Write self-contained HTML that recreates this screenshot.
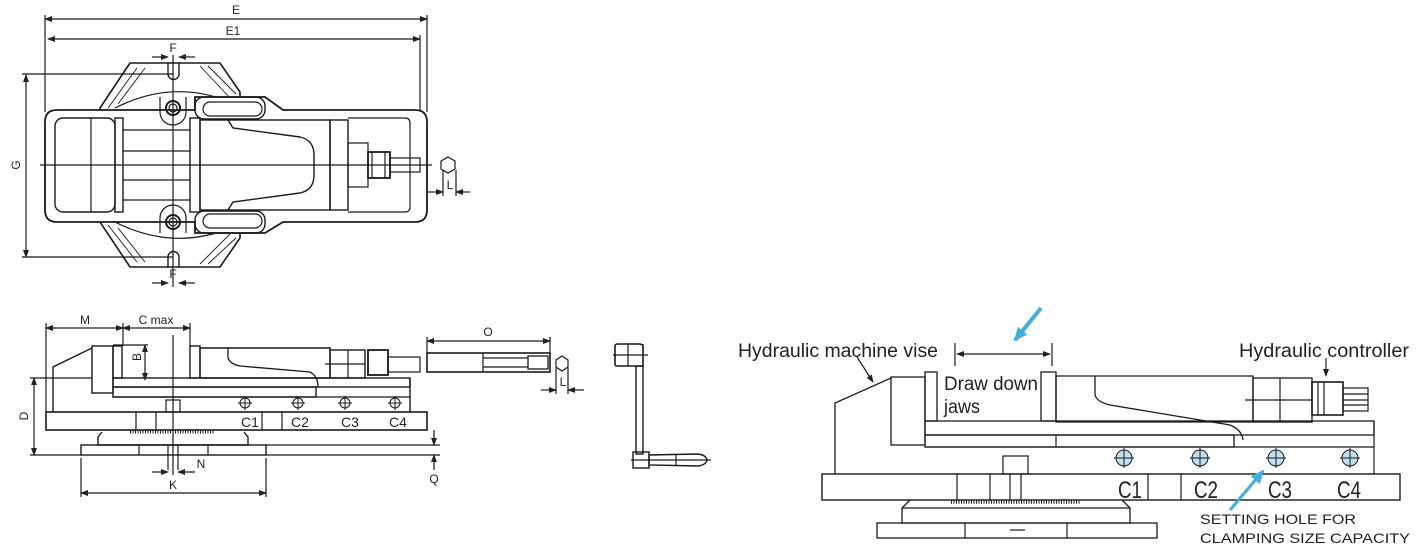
<!DOCTYPE html>
<html><head><meta charset="utf-8"><style>
html,body{margin:0;padding:0;background:#fff;}
svg{display:block;}
text{font-family:"Liberation Sans",sans-serif;fill:#222;}
.n{font-family:"Liberation Sans Narrow","Liberation Sans",sans-serif;}
</style></head><body>
<svg width="1420" height="553" viewBox="0 0 1420 553" xmlns="http://www.w3.org/2000/svg">
<defs>
<marker id="a" markerWidth="8" markerHeight="6" refX="7" refY="3" orient="auto-start-reverse" markerUnits="userSpaceOnUse"><path d="M0,0 L8,3 L0,6 Z" fill="#222"/></marker>
<marker id="b" markerWidth="14" markerHeight="12" refX="12" refY="6" orient="auto" markerUnits="userSpaceOnUse"><path d="M0,0 L14,6 L0,12 Z" fill="#3fb0dc"/></marker>
</defs>
<g fill="none" stroke="#1a1a1a" stroke-width="1.2">
<!-- ===== TOP VIEW ===== -->
<line x1="45" y1="19" x2="427" y2="19" marker-start="url(#a)" marker-end="url(#a)"/>
<line x1="48" y1="39" x2="420" y2="39" marker-start="url(#a)" marker-end="url(#a)"/>
<line x1="45" y1="15" x2="45" y2="112"/><line x1="427" y1="15" x2="427" y2="112"/><line x1="420" y1="35" x2="420" y2="112"/>
<line x1="152" y1="57" x2="168" y2="57" marker-end="url(#a)"/><line x1="195" y1="57" x2="179" y2="57" marker-end="url(#a)"/>
<line x1="152" y1="283" x2="168" y2="283" marker-end="url(#a)"/><line x1="195" y1="283" x2="179" y2="283" marker-end="url(#a)"/>
<line x1="26" y1="75" x2="26" y2="257" marker-start="url(#a)" marker-end="url(#a)"/>
<line x1="22" y1="74" x2="173" y2="74"/><line x1="22" y1="257" x2="173" y2="257"/>
<path d="M130,63 H220 L240,92 L240,238 L220,267 H130 L100,222 L100,108 Z" stroke-width="1.6"/>
<g stroke-width="0.9"><line x1="137" y1="68" x2="108" y2="108"/><line x1="145" y1="68" x2="118" y2="104"/><line x1="200" y1="66" x2="232" y2="100"/><line x1="208" y1="66" x2="236" y2="94"/>
<line x1="137" y1="262" x2="108" y2="225"/><line x1="145" y1="262" x2="118" y2="228"/><line x1="200" y1="264" x2="232" y2="232"/><line x1="208" y1="264" x2="236" y2="238"/></g>
<path d="M168,63 V74 A5.5,5.5 0 0 0 179,74 V63" stroke-width="1.4"/>
<path d="M168,267 V257 A5.5,5.5 0 0 1 179,257 V267" stroke-width="1.4"/>
<path d="M115,108 Q170,80 225,100" /><path d="M115,222 Q170,250 225,230"/>
<path d="M57,110 H195 V97 H265 L283,110 H415 Q427,110 427,122 V210 Q427,222 415,222 H283 L265,233 H195 V222 H57 Q45,222 45,210 V122 Q45,110 57,110 Z" fill="#fff" stroke-width="1.8"/>
<rect x="55" y="118" width="60" height="94" rx="8" stroke-width="1.4"/>
<line x1="91" y1="118" x2="91" y2="212"/>
<rect x="115" y="118" width="8" height="94" stroke-width="1.4"/>
<line x1="123" y1="130" x2="190" y2="130"/><line x1="123" y1="151" x2="190" y2="151"/><line x1="123" y1="180" x2="190" y2="180"/><line x1="123" y1="200" x2="190" y2="200"/>
<rect x="190" y="118" width="10" height="94" stroke-width="1.4"/>
<rect x="200" y="120" width="130" height="90" stroke-width="1.4"/>
<path d="M228,120 L233,128 L300,137 Q314,140 314,155 V175 Q314,190 300,193 L233,202 L228,210" stroke-width="1.4"/>
<rect x="330" y="120" width="18" height="90" stroke-width="1.4"/>
<path d="M348,118 H405 Q410,118 410,123 V207 Q410,212 405,212 H348"/>
<rect x="348" y="143" width="20" height="44"/>
<rect x="368" y="152" width="22" height="26" stroke-width="1.8"/>
<line x1="372" y1="152" x2="372" y2="178"/><line x1="385" y1="152" x2="385" y2="178"/>
<rect x="390" y="158" width="30" height="14"/>
<rect x="195" y="97" width="70" height="22" rx="9" stroke-width="1.4"/>
<rect x="203" y="102" width="59" height="14" rx="7"/>
<rect x="195" y="211" width="70" height="22" rx="9" stroke-width="1.4"/>
<rect x="203" y="214" width="59" height="14" rx="7"/>
<path d="M160,97 V112 A13,13 0 0 0 186,112 V97" /><path d="M160,233 V218 A13,13 0 0 1 186,218 V233"/>
<circle cx="173" cy="108" r="7" stroke-width="2"/><circle cx="173" cy="108" r="4"/>
<circle cx="173" cy="222" r="7" stroke-width="2"/><circle cx="173" cy="222" r="4"/>
<line x1="173" y1="55" x2="173" y2="287"/>
<line x1="40" y1="165" x2="432" y2="165"/>
<polygon points="448,157 455,161 455,169 448,173 441,169 441,161"/>
<line x1="443" y1="170" x2="443" y2="196"/><line x1="456" y1="170" x2="456" y2="196"/>
<line x1="427" y1="192" x2="443" y2="192" marker-end="url(#a)"/><line x1="470" y1="192" x2="456" y2="192" marker-end="url(#a)"/>

<!-- ===== SIDE VIEW ===== -->
<line x1="46" y1="328" x2="123" y2="328" marker-start="url(#a)" marker-end="url(#a)"/>
<line x1="123" y1="328" x2="190" y2="328" marker-start="url(#a)" marker-end="url(#a)"/>
<line x1="46" y1="323" x2="46" y2="412"/><line x1="123" y1="323" x2="123" y2="346"/><line x1="190" y1="323" x2="190" y2="346"/>
<path d="M53,412 V367 L92,348" stroke-width="1.4"/>
<rect x="92" y="346" width="21" height="47" stroke-width="1.4"/>
<rect x="113" y="346" width="9" height="32" stroke-width="1.4"/>
<line x1="113" y1="345" x2="148" y2="345"/><line x1="145" y1="345" x2="145" y2="380" marker-start="url(#a)" marker-end="url(#a)"/>
<rect x="113" y="378" width="297" height="9" stroke-width="1.4"/>
<rect x="113" y="387" width="203" height="10" stroke-width="1.4"/>
<line x1="113" y1="397" x2="410" y2="397"/><line x1="410" y1="378" x2="410" y2="412" stroke-width="1.4"/>
<rect x="190" y="346" width="10" height="32" stroke-width="1.4"/>
<path d="M200,348 H330 V378 H200 Z" stroke-width="1.4"/>
<path d="M228,348 V358 Q230,364 240,366 L310,372 Q318,376 318,387" stroke-width="1.3"/>
<rect x="330" y="350" width="35" height="28" stroke-width="1.4"/><line x1="348" y1="350" x2="348" y2="378"/><line x1="325" y1="364" x2="365" y2="364"/>
<rect x="368" y="350" width="20" height="25" stroke-width="1.8"/>
<rect x="388" y="357" width="32" height="15"/>
<line x1="173" y1="335" x2="173" y2="475"/>
<rect x="46" y="412" width="381" height="18" stroke-width="1.6"/>
<line x1="262" y1="412" x2="262" y2="430"/><line x1="282" y1="412" x2="282" y2="430"/>
<line x1="136" y1="412" x2="136" y2="430"/><line x1="156" y1="412" x2="156" y2="430"/>
<rect x="166" y="400" width="14" height="12"/>
<g stroke-width="1"><circle cx="245" cy="403" r="5"/><line x1="238" y1="403" x2="252" y2="403"/><line x1="245" y1="396" x2="245" y2="410"/>
<circle cx="298" cy="403" r="5"/><line x1="291" y1="403" x2="305" y2="403"/><line x1="298" y1="396" x2="298" y2="410"/>
<circle cx="345" cy="403" r="5"/><line x1="338" y1="403" x2="352" y2="403"/><line x1="345" y1="396" x2="345" y2="410"/>
<circle cx="395" cy="403" r="5"/><line x1="388" y1="403" x2="402" y2="403"/><line x1="395" y1="396" x2="395" y2="410"/></g>
<path d="M102,432 L98,437 V445 H248 V437 L244,432" stroke-width="1.4"/>
<line x1="130" y1="432" x2="215" y2="432" stroke-width="3" stroke-dasharray="1 1.5"/>
<rect x="81" y="445" width="185" height="10" stroke-width="1.4"/>
<line x1="139" y1="445" x2="139" y2="455"/><line x1="208" y1="445" x2="208" y2="455"/><line x1="168" y1="445" x2="168" y2="470"/><line x1="178" y1="445" x2="178" y2="470"/>
<line x1="34" y1="378" x2="34" y2="455" marker-start="url(#a)" marker-end="url(#a)"/>
<line x1="30" y1="378" x2="92" y2="378"/><line x1="30" y1="455" x2="81" y2="455"/>
<line x1="266" y1="445" x2="440" y2="445"/><line x1="266" y1="455" x2="440" y2="455"/>
<line x1="434" y1="430" x2="434" y2="445" marker-end="url(#a)"/><line x1="434" y1="470" x2="434" y2="455" marker-end="url(#a)"/>
<line x1="81" y1="458" x2="81" y2="497"/><line x1="266" y1="458" x2="266" y2="497"/>
<line x1="81" y1="493" x2="266" y2="493" marker-start="url(#a)" marker-end="url(#a)"/>
<line x1="152" y1="472" x2="168" y2="472" marker-end="url(#a)"/><line x1="195" y1="472" x2="178" y2="472" marker-end="url(#a)"/>
<rect x="427" y="353" width="123" height="19" stroke-width="1.6"/>
<line x1="483" y1="353" x2="483" y2="372"/><line x1="483" y1="358" x2="528" y2="358"/><line x1="483" y1="367" x2="528" y2="367"/>
<rect x="528" y="356" width="20" height="13" stroke-width="1.3"/>
<line x1="427" y1="341" x2="550" y2="341" marker-start="url(#a)" marker-end="url(#a)"/>
<line x1="427" y1="337" x2="427" y2="353"/><line x1="550" y1="337" x2="550" y2="353"/>
<polygon points="562,356 568,360 568,367 562,371 556,367 556,360"/>
<line x1="556" y1="368" x2="556" y2="394"/><line x1="568" y1="368" x2="568" y2="394"/>
<line x1="541" y1="390" x2="556" y2="390" marker-end="url(#a)"/><line x1="584" y1="390" x2="568" y2="390" marker-end="url(#a)"/>
<path d="M615,346 Q615,344 618,344 H640 L643,345 V366 H617 Q615,366 615,364 Z" stroke-width="1.6"/>
<line x1="628" y1="344" x2="628" y2="366"/>
<line x1="613" y1="355" x2="648" y2="355"/>
<rect x="636" y="366" width="7" height="88" stroke-width="1.4"/>
<rect x="633" y="452" width="16" height="16" stroke-width="1.4"/>
<path d="M649,455 L698,454 Q706,455 707,460 Q706,465 698,466 L649,465 Z" stroke-width="1.4"/>
<line x1="676" y1="454" x2="676" y2="466"/>
<line x1="631" y1="460" x2="711" y2="460"/>

<!-- ===== RIGHT VIEW ===== -->
<line x1="857" y1="357" x2="873" y2="382" marker-end="url(#a)"/>
<line x1="955" y1="343" x2="955" y2="366"/><line x1="1052" y1="343" x2="1052" y2="366"/>
<line x1="957" y1="354" x2="1050" y2="354" marker-start="url(#a)" marker-end="url(#a)"/>
<line x1="1326" y1="358" x2="1326" y2="376" marker-end="url(#a)"/>
<path d="M835,474 V403 L891,378" stroke-width="1.3"/>
<rect x="891" y="377" width="34" height="68" stroke-width="1.3"/>
<rect x="925" y="372" width="12" height="49" stroke-width="1.3"/>
<rect x="1041" y="372" width="15" height="49" stroke-width="1.3"/>
<path d="M1056,376 H1253 V422 H1056 Z" stroke-width="1.3"/>
<path d="M1095,376 V395 Q1097,402 1110,405 L1230,425 Q1242,430 1243,440" stroke-width="1.3"/>
<rect x="925" y="421" width="449" height="14" stroke-width="1.3"/>
<rect x="925" y="435" width="309" height="12" stroke-width="1.3"/>
<line x1="925" y1="447" x2="1374" y2="447"/><line x1="1374" y1="421" x2="1374" y2="474"/>
<line x1="1056" y1="435" x2="1056" y2="447"/>
<rect x="1253" y="378" width="59" height="44" stroke-width="1.3"/><line x1="1280" y1="378" x2="1280" y2="422"/><line x1="1245" y1="400" x2="1312" y2="400"/>
<rect x="1312" y="382" width="31" height="33" stroke-width="1.6"/><line x1="1318" y1="382" x2="1318" y2="415"/><line x1="1324" y1="382" x2="1324" y2="415"/>
<rect x="1343" y="388" width="25" height="23"/><line x1="1343" y1="394" x2="1368" y2="394"/><line x1="1343" y1="400" x2="1368" y2="400"/><line x1="1343" y1="405" x2="1368" y2="405"/>
<rect x="822" y="474" width="578" height="26" stroke-width="1.4"/>
<line x1="1148" y1="474" x2="1148" y2="500"/><line x1="1181" y1="474" x2="1181" y2="500"/>
<line x1="957" y1="474" x2="957" y2="500"/><line x1="990" y1="474" x2="990" y2="500"/>
<rect x="1003" y="456" width="25" height="18"/><line x1="1010" y1="474" x2="1010" y2="500"/><line x1="1021" y1="474" x2="1021" y2="500"/>
<g fill="#bfe0f0" stroke-width="1"><circle cx="1124" cy="458" r="8"/><circle cx="1200" cy="458" r="8"/><circle cx="1276" cy="458" r="8"/><circle cx="1350" cy="458" r="8"/></g>
<g stroke-width="1"><line x1="1114" y1="458" x2="1134" y2="458"/><line x1="1124" y1="448" x2="1124" y2="468"/>
<line x1="1190" y1="458" x2="1210" y2="458"/><line x1="1200" y1="448" x2="1200" y2="468"/>
<line x1="1266" y1="458" x2="1286" y2="458"/><line x1="1276" y1="448" x2="1276" y2="468"/>
<line x1="1340" y1="458" x2="1360" y2="458"/><line x1="1350" y1="448" x2="1350" y2="468"/></g>
<path d="M910,500 L902,508 V523 H1130 V508 L1122,500" stroke-width="1.3"/>
<line x1="902" y1="508" x2="1130" y2="508"/>
<line x1="951" y1="502" x2="1080" y2="502" stroke-width="3.5" stroke-dasharray="1 1.5"/>
<rect x="877" y="523" width="280" height="15" stroke-width="1.3"/>
<line x1="965" y1="523" x2="965" y2="538"/><line x1="1067" y1="523" x2="1067" y2="538"/><line x1="1010" y1="530" x2="1025" y2="530"/>
<line x1="1041" y1="308" x2="1015" y2="340" stroke="#3fb0dc" stroke-width="4" marker-end="url(#b)"/>
<line x1="1230" y1="510" x2="1263" y2="471" stroke="#3fb0dc" stroke-width="3" marker-end="url(#b)"/>
</g>
<g font-size="12" text-anchor="middle">
<text x="236" y="14">E</text><text x="233" y="35">E1</text>
<text x="173" y="52">F</text><text x="173" y="278">F</text>
<text x="20" y="165" transform="rotate(-90 20 165)">G</text>
<text x="450" y="189">L</text>
<text x="85" y="324">M</text><text x="156" y="324">C max</text>
<text x="141" y="357" transform="rotate(-90 141 357)">B</text>
<text x="28" y="416" transform="rotate(-90 28 416)">D</text>
<text x="173" y="489">K</text><text x="201" y="468">N</text><text x="434" y="483">Q</text>
<text x="488" y="336">O</text><text x="563" y="386">L</text>
</g>
<g font-size="14" text-anchor="middle"><text x="250" y="427">C1</text><text x="300" y="427">C2</text><text x="350" y="427">C3</text><text x="398" y="427">C4</text></g>
<g font-size="24"><text x="1118" y="498" textLength="24" lengthAdjust="spacingAndGlyphs">C1</text><text x="1194" y="498" textLength="24" lengthAdjust="spacingAndGlyphs">C2</text><text x="1268" y="498" textLength="24" lengthAdjust="spacingAndGlyphs">C3</text><text x="1337" y="498" textLength="24" lengthAdjust="spacingAndGlyphs">C4</text></g>
<text x="738" y="357" font-size="19" textLength="200" lengthAdjust="spacingAndGlyphs">Hydraulic machine vise</text>
<text x="1239" y="357" font-size="19" textLength="170" lengthAdjust="spacingAndGlyphs">Hydraulic controller</text>
<text x="944" y="390" font-size="19" textLength="94" lengthAdjust="spacingAndGlyphs">Draw down</text>
<text x="944" y="413" font-size="19" textLength="36" lengthAdjust="spacingAndGlyphs">jaws</text>
<text x="1200" y="524" font-size="14" textLength="156" lengthAdjust="spacingAndGlyphs">SETTING HOLE FOR</text>
<text x="1200" y="543" font-size="14" textLength="210" lengthAdjust="spacingAndGlyphs">CLAMPING SIZE CAPACITY</text>
</svg>
</body></html>
